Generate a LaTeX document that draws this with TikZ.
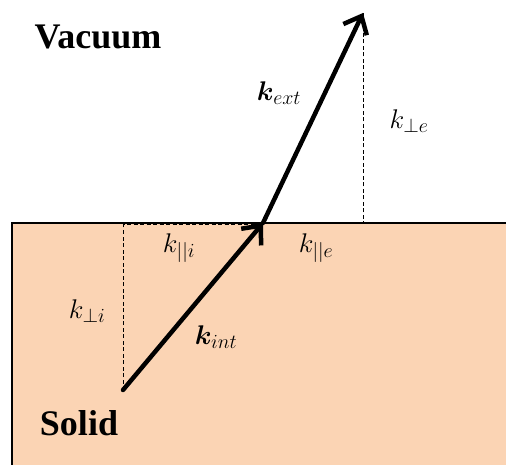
\RequirePackage{fix-cm}
\documentclass[tikz,border=0pt]{standalone}
\usepackage{fontspec}
\usepackage{amsmath,bm}
\newfontfamily\timesfont{Liberation Serif}
\newcommand{\subx}[1]{_{\hbox{\fontsize{20}{21}\selectfont$#1$}}}
\usetikzlibrary{arrows.meta}
\definecolor{peach}{HTML}{FBD4B4}
\begin{document}
\begin{tikzpicture}[x=1pt,y=-1pt,
  vec/.style={line width=4.5pt,line cap=round,line join=round,-{Straight Barb[length=15pt,width=26pt,line width=4.5pt]}},
  proj/.style={line width=1pt,dash pattern=on 4pt off 2.5pt},
  title/.style={font=\timesfont\bfseries\fontsize{36}{40}\selectfont,inner sep=0pt},
  lab/.style={font=\fontsize{27}{32}\selectfont,inner sep=0pt}]
\useasboundingbox (0,0) rectangle (506,465);
\clip (0,0) rectangle (506,465);
\fill[peach] (12,223) rectangle (520,480);
\draw[line width=2pt] (12,480) -- (12,223) -- (520,223);
\coordinate (A) at (123,390);
\coordinate (P) at (263,223);
\coordinate (B) at (363,13);
\coordinate (C) at (123,225);
\coordinate (D) at (363,223);
\coordinate (P2) at (263,225);
\draw[proj] (A) -- (C) -- (P2);
\draw[proj] (P) -- (D) -- (B);
\draw[vec] (A) -- (P);
\draw[vec] (P) -- (B);
\node[title] (vac) at (98,37) {Vacuum};
\node[title] (sol) at (79,423) {Solid};
\node[lab] (kext) at (279,93) {$\bm{k}\subx{ext}$};
\node[lab] (kpe) at (409,121) {$k\subx{\mathord{\perp} e}$};
\node[lab] (kpari) at (179,248) {$k\subx{||i}$};
\node[lab] (kpare) at (316,248) {$k\subx{||e}$};
\node[lab] (kpi) at (87,311) {$k\subx{\mathord{\perp} i}$};
\node[lab] (kint) at (216,337) {$\bm{k}\subx{int}$};
\end{tikzpicture}
\end{document}
